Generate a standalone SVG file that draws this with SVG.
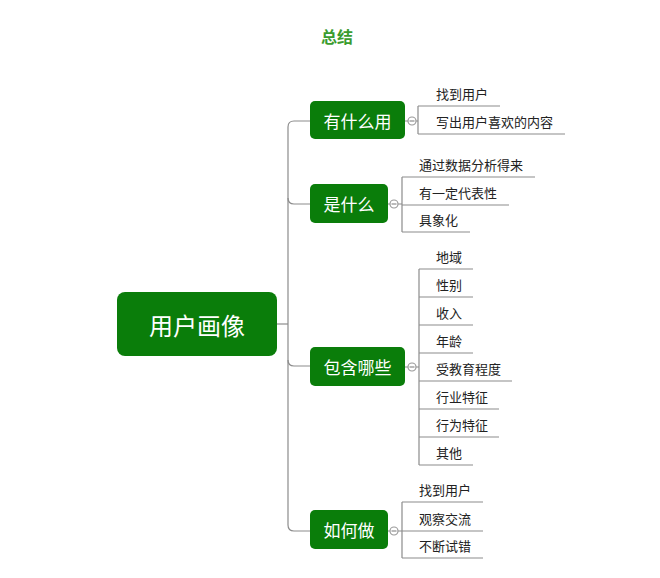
<svg xmlns="http://www.w3.org/2000/svg" width="660" height="578" viewBox="0 0 660 578">
<style>
.bg{fill:#ffffff}
.node rect{fill:#0a7d0a}
.node text{fill:#ffffff;font-family:"Noto Sans CJK SC","Microsoft YaHei",sans-serif;text-anchor:middle;dominant-baseline:central}
.conn path,.conn line{stroke:#8c8c8c;stroke-width:1.2;fill:none}
.conn circle{stroke:#9a9a9a;stroke-width:1.2;fill:#ffffff}
.leaf{fill:#222222;font-family:"Noto Sans CJK SC","Microsoft YaHei",sans-serif;font-size:13px;dominant-baseline:central}
.title{fill:#3a9c2e;font-family:"Noto Sans CJK SC","Microsoft YaHei",sans-serif;font-size:16px;font-weight:bold;text-anchor:middle;dominant-baseline:central}
</style>
<rect class="bg" x="0" y="0" width="660" height="578"/>
<text class="title" x="337" y="36">总结</text>

<g id="connectors" class="conn">
  <path d="M277,324 H288"/>
  <path d="M310,121 H294 Q288,121 288,127 V525 Q288,531 294,531 H310"/>
  <path d="M288,198 Q288,204 294,204 H310"/>
  <path d="M288,360 Q288,366 294,366 H310"/>
  <!-- 有什么用 children -->
  <path d="M405,121 H408 M416,121 H418 M418,106 V134 M418,106 H500 M418,134 H565"/>
  <circle cx="412" cy="121" r="4"/><line x1="409.5" y1="121" x2="414.5" y2="121"/>
  <!-- 是什么 children -->
  <path d="M388,204 H390 M398,204 H402 M402,177 V232 M402,177 H535 M402,205 H509 M402,232 H470"/>
  <circle cx="394" cy="204" r="4"/><line x1="391.5" y1="204" x2="396.5" y2="204"/>
  <!-- 包含哪些 children -->
  <path d="M405,367 H408 M416,367 H419 M419,269 V465 M419,269 H473 M419,297 H473 M419,325 H473 M419,353 H473 M419,381 H512 M419,409 H499 M419,437 H499 M419,465 H473"/>
  <circle cx="412" cy="367" r="4"/><line x1="409.5" y1="367" x2="414.5" y2="367"/>
  <!-- 如何做 children -->
  <path d="M388,531 H390 M398,531 H402 M402,502 V558 M402,502 H483 M402,531 H483 M402,558 H483"/>
  <circle cx="394" cy="531" r="4"/><line x1="391.5" y1="531" x2="396.5" y2="531"/>
</g>

<g id="root" class="node">
  <rect x="117" y="292" width="160" height="64" rx="8"/>
  <text x="197" y="324" font-size="24">用户画像</text>
</g>
<g id="n-use" class="node">
  <rect x="310" y="101" width="95" height="38" rx="5"/>
  <text x="357.5" y="120" font-size="17">有什么用</text>
</g>
<g id="n-what" class="node">
  <rect x="310" y="184" width="78" height="39" rx="5"/>
  <text x="349" y="203.5" font-size="17">是什么</text>
</g>
<g id="n-contain" class="node">
  <rect x="310" y="347" width="95" height="39" rx="5"/>
  <text x="357.5" y="366.5" font-size="17">包含哪些</text>
</g>
<g id="n-how" class="node">
  <rect x="310" y="510" width="78" height="39" rx="5"/>
  <text x="349" y="529.5" font-size="17">如何做</text>
</g>

<g id="leaves-use">
  <text class="leaf" x="436" y="93.5">找到用户</text>
  <text class="leaf" x="436" y="121.5">写出用户喜欢的内容</text>
</g>
<g id="leaves-what">
  <text class="leaf" x="419" y="164.5">通过数据分析得来</text>
  <text class="leaf" x="419" y="192.5">有一定代表性</text>
  <text class="leaf" x="419" y="219.5">具象化</text>
</g>
<g id="leaves-contain">
  <text class="leaf" x="436" y="256.5">地域</text>
  <text class="leaf" x="436" y="284.5">性别</text>
  <text class="leaf" x="436" y="312.5">收入</text>
  <text class="leaf" x="436" y="340.5">年龄</text>
  <text class="leaf" x="436" y="368.5">受教育程度</text>
  <text class="leaf" x="436" y="396.5">行业特征</text>
  <text class="leaf" x="436" y="424.5">行为特征</text>
  <text class="leaf" x="436" y="452.5">其他</text>
</g>
<g id="leaves-how">
  <text class="leaf" x="419" y="489.5">找到用户</text>
  <text class="leaf" x="419" y="518.5">观察交流</text>
  <text class="leaf" x="419" y="545.5">不断试错</text>
</g>
</svg>
